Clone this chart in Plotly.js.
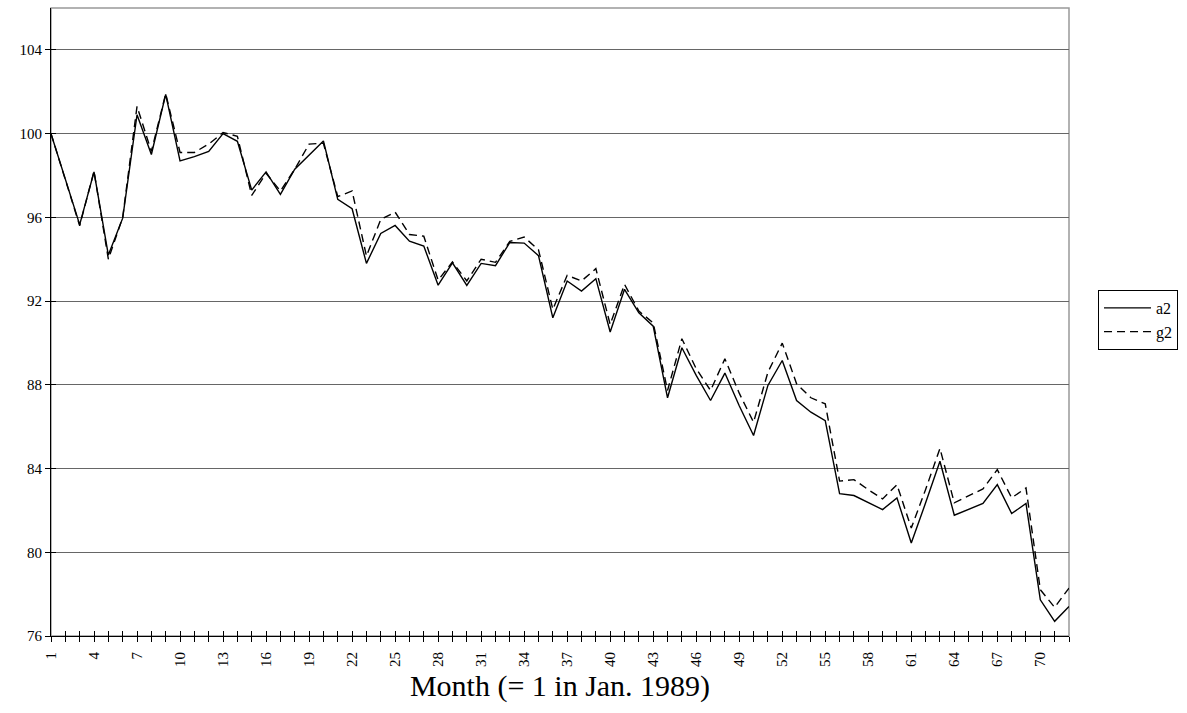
<!DOCTYPE html>
<html>
<head>
<meta charset="utf-8">
<script src="https://cdn.plot.ly/plotly-3.0.1.min.js"></script>
<style>html,body{margin:0;padding:0;background:#fff;}#chart{width:1187px;height:713px;}</style>
</head>
<body>
<div id="chart"></div>
<script>
const months = [];
for (let m = 1; m <= 72; m++) months.push(m);

const a2 = [100, 97.8, 95.65, 98.17, 94.2, 95.96, 100.9, 99.0, 101.87, 98.7,
  98.9, 99.15, 100.0, 99.63, 97.3, 98.17, 97.1, 98.3, 98.98, 99.65,
  96.86, 96.41, 93.8, 95.23, 95.61, 94.86, 94.63, 92.76, 93.83, 92.75,
  93.8, 93.69, 94.8, 94.77, 94.17, 91.2, 92.96, 92.48, 93.07, 90.52,
  92.56, 91.44, 90.8, 87.38, 89.77, 88.45, 87.25, 88.56, 87.0, 85.58,
  87.97, 89.16, 87.25, 86.69, 86.29, 82.8, 82.71, 82.36, 82.04, 82.6,
  80.44, 82.36, 84.35, 81.77, 82.04, 82.33, 83.23, 81.85, 82.33, 77.73,
  76.7, 77.41];

const g2 = [100, 97.8, 95.6, 98.2, 94.0, 96.0, 101.3, 99.15, 101.9, 99.1,
  99.1, 99.5, 100.05, 99.87, 97.05, 98.1, 97.26, 98.3, 99.5, 99.54,
  96.99, 97.26, 94.15, 95.9, 96.25, 95.18, 95.1, 93.0, 93.87, 92.96,
  94.0, 93.85, 94.85, 95.06, 94.45, 91.6, 93.23, 92.96, 93.55, 90.88,
  92.8, 91.52, 90.96, 87.73, 90.2, 88.77, 87.73, 89.24, 87.6, 86.21,
  88.6, 89.99, 88.05, 87.38, 87.09, 83.4, 83.47, 82.99, 82.55, 83.23,
  81.16, 83.0, 84.96, 82.36, 82.68, 83.03, 83.95, 82.6, 83.07, 78.21,
  77.37, 78.29];

const xTickLabels = months.map(m => ((m - 1) % 3 === 0 ? String(m) : ''));
const yTickVals = [76, 80, 84, 88, 92, 96, 100, 104];

const FONT = 'Liberation Serif, Times New Roman, serif';

const traces = [
  {x: months, y: a2, name: 'a2', type: 'scatter', mode: 'lines',
   line: {color: '#000', width: 1.4}},
  {x: months, y: g2, name: 'g2', type: 'scatter', mode: 'lines',
   line: {color: '#000', width: 1.4, dash: '8px,5px'}},
  {x: [null], y: [null], xaxis: 'x2', yaxis: 'y2', showlegend: false,
   hoverinfo: 'skip', mode: 'lines'}
];

const layout = {
  width: 1187, height: 713,
  margin: {l: 51, r: 118, t: 8, b: 77},
  paper_bgcolor: '#fff', plot_bgcolor: '#fff',
  font: {family: FONT, color: '#000', size: 14},
  showlegend: true,
  legend: {x: 1.0285, y: 0.551, xanchor: 'left', yanchor: 'top',
    bordercolor: '#000', borderwidth: 1, bgcolor: '#fff',
    font: {family: FONT, size: 16, color: '#000'}, itemwidth: 47, tracegroupgap: 2},
  xaxis: {
    range: [1, 72], tickmode: 'array', tickvals: months, ticktext: xTickLabels,
    tickangle: -90, ticks: 'outside', ticklen: 5, tickcolor: '#000', tickwidth: 1,
    showline: true, linecolor: '#000', linewidth: 1, showgrid: false, zeroline: false,
    tickfont: {family: FONT, size: 15, color: '#000'}, ticklabelstandoff: 4,
    title: {text: 'Month (= 1 in Jan. 1989)', font: {family: FONT, size: 30, color: '#000'}, standoff: 8}
  },
  xaxis2: {
    overlaying: 'x', anchor: 'y', side: 'bottom', range: [1, 72],
    tickmode: 'array', tickvals: months, ticks: 'inside', ticklen: 5,
    tickcolor: '#000', tickwidth: 1, showticklabels: false, showgrid: false,
    showline: false, zeroline: false
  },
  yaxis: {
    range: [76, 106], tickmode: 'array', tickvals: yTickVals,
    ticks: 'outside', ticklen: 5, tickcolor: '#000', tickwidth: 1,
    showline: true, linecolor: '#000', linewidth: 1,
    showgrid: true, gridcolor: '#666', gridwidth: 1, zeroline: false,
    tickfont: {family: FONT, size: 15, color: '#000'}
  },
  yaxis2: {
    overlaying: 'y', anchor: 'x', side: 'left', range: [76, 106],
    tickmode: 'array', tickvals: yTickVals, ticks: 'inside', ticklen: 5,
    tickcolor: '#000', tickwidth: 1, showticklabels: false, showgrid: false,
    showline: false, zeroline: false
  },
  shapes: [
    {type: 'rect', xref: 'paper', yref: 'paper', x0: 0, x1: 1, y0: 0, y1: 1,
     line: {color: '#999', width: 1.5}, layer: 'below'}
  ]
};

Plotly.newPlot('chart', traces, layout, {displayModeBar: false, staticPlot: true});
</script>
</body>
</html>
